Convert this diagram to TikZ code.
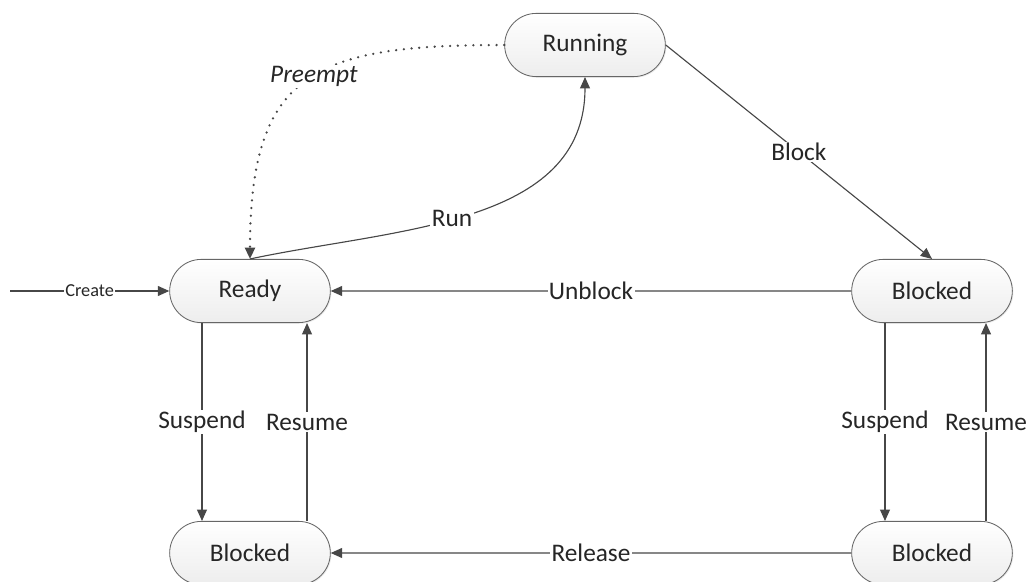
\documentclass[tikz,border=0pt]{standalone}
\usepackage{fontspec}
\setmainfont{Carlito}
\usetikzlibrary{shapes.misc, arrows.meta, shadows}

\tikzset{
  proc/.style = {rounded rectangle, draw=black!60, line width=0.6pt,
    top color=white, bottom color=black!7, minimum width=4.25cm,
    minimum height=1.58cm, text=black!85, font=\fontsize{18}{21}\selectfont,
    drop shadow={opacity=0.15, shadow xshift=0.8pt, shadow yshift=-0.8pt}},
  lbl/.style = {fill=white, inner sep=1pt, text=black!85,
    font=\fontsize{18}{21}\selectfont},
  ln/.style = {draw=black!72, line width=0.8pt}
}

\begin{document}
\begin{tikzpicture}[x=0.025cm, y=-0.025cm, >={Triangle[length=8pt, width=7pt]}]
\useasboundingbox (0,0) rectangle (1030,582);
% states
\node[proc] (running) at (585,45) {Running};
\node[proc] (ready) at (250,291) {Ready};
\node[proc] (blkR) at (932,291) {Blocked};
\node[proc] (blkBL) at (250,553) {Blocked};
\node[proc] (blkBR) at (932,553) {Blocked};
\coordinate (start) at (10,291);
% transitions
\draw[ln, ->] (start) -- node[lbl, font=\fontsize{13}{15}\selectfont] {Create} (ready);
\draw[ln, ->] (ready.north) to[out=12, in=-90] node[lbl, pos=0.45] {Run} (running.south);
\draw[ln, ->, line width=1.8pt, line cap=round, dash pattern=on 0pt off 5.5pt]
  (running.west) to[out=180, in=90, looseness=1.45]
  node[lbl, pos=0.47, font=\fontsize{18}{21}\selectfont\itshape] {Preempt} (ready.north);
\draw[ln, ->] (running.east) -- node[lbl] {Block} (blkR.north);
\draw[ln, ->] (blkR) -- node[lbl] {Unblock} (ready);
\draw[ln, ->] ([xshift=-1.2cm]ready.south) -- node[lbl] {Suspend} ([xshift=-1.2cm]blkBL.north);
\draw[ln, ->] ([xshift=1.425cm]blkBL.north) -- node[lbl] {Resume} ([xshift=1.425cm]ready.south);
\draw[ln, ->] ([xshift=-1.175cm]blkR.south) -- node[lbl] {Suspend} ([xshift=-1.175cm]blkBR.north);
\draw[ln, ->] ([xshift=1.35cm]blkBR.north) -- node[lbl] {Resume} ([xshift=1.35cm]blkR.south);
\draw[ln, ->] (blkBR) -- node[lbl] {Release} (blkBL);
\end{tikzpicture}
\end{document}
